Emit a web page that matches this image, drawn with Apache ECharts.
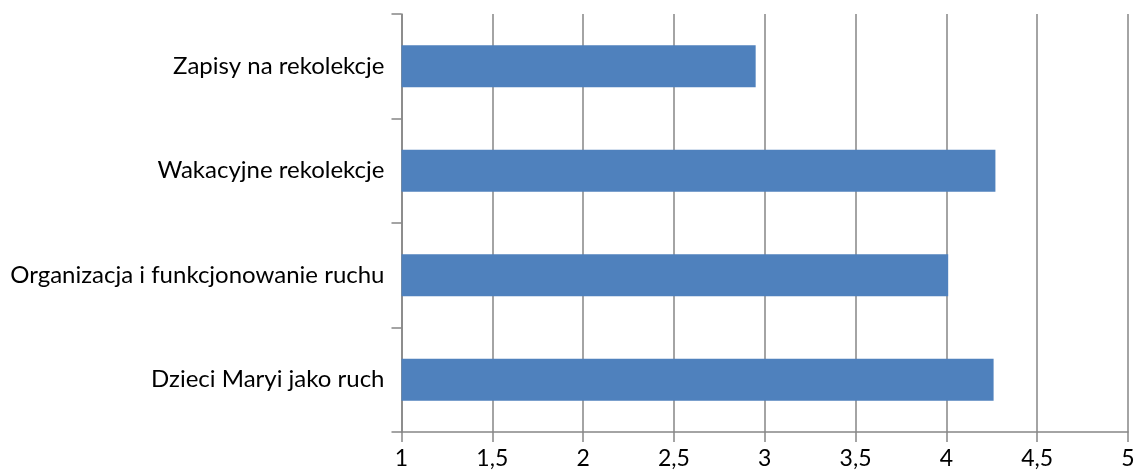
<!DOCTYPE html>
<html>
<head>
<meta charset="utf-8">
<script src="https://cdn.jsdelivr.net/npm/echarts@6/dist/echarts.min.js"></script>
<style>
  html, body { margin: 0; padding: 0; background: #fff; }
  #chart { width: 1142px; height: 471px; }
</style>
</head>
<body>
<div id="chart"></div>
<script>
// kategorie (od dołu do góry, jak rysuje oś kategorii)
var categories = ['Dzieci Maryi jako ruch', 'Organizacja i funkcjonowanie ruchu', 'Wakacyjne rekolekcje', 'Zapisy na rekolekcje'];
var values = [4.26, 4.01, 4.27, 2.95];
var xMin = 1, xMax = 5, xStep = 0.5;

var chart = echarts.init(document.getElementById('chart'));

var option = {
    animation: false,
    grid: { left: 401.5, right: 14, top: 14, bottom: 39 },
    xAxis: {
        type: 'value',
        min: xMin,
        max: xMax,
        interval: xStep,
        axisLine: { show: true, lineStyle: { color: '#868686', width: 1.5 } },
        axisTick: { show: true, length: 10, lineStyle: { color: '#868686', width: 1.5 } },
        splitLine: { show: true, lineStyle: { color: '#868686', width: 1.5 } },
        axisLabel: {
            color: '#000',
            fontSize: 23,
            fontFamily: 'Lato',
            margin: 15,
            formatter: function (v) { return String(v).replace('.', ','); }
        }
    },
    yAxis: {
        type: 'category',
        data: categories,
        axisLine: { show: true, lineStyle: { color: '#868686', width: 1.5 } },
        axisTick: { show: true, length: 10, lineStyle: { color: '#868686', width: 1.5 } },
        axisLabel: { color: '#000', fontSize: 24, fontFamily: 'Lato', margin: 17 }
    },
    series: [
        {
            type: 'bar',
            data: values,
            barWidth: 42,
            itemStyle: { color: '#4F81BD' }
        }
    ]
};

chart.setOption(option);
</script>
</body>
</html>
